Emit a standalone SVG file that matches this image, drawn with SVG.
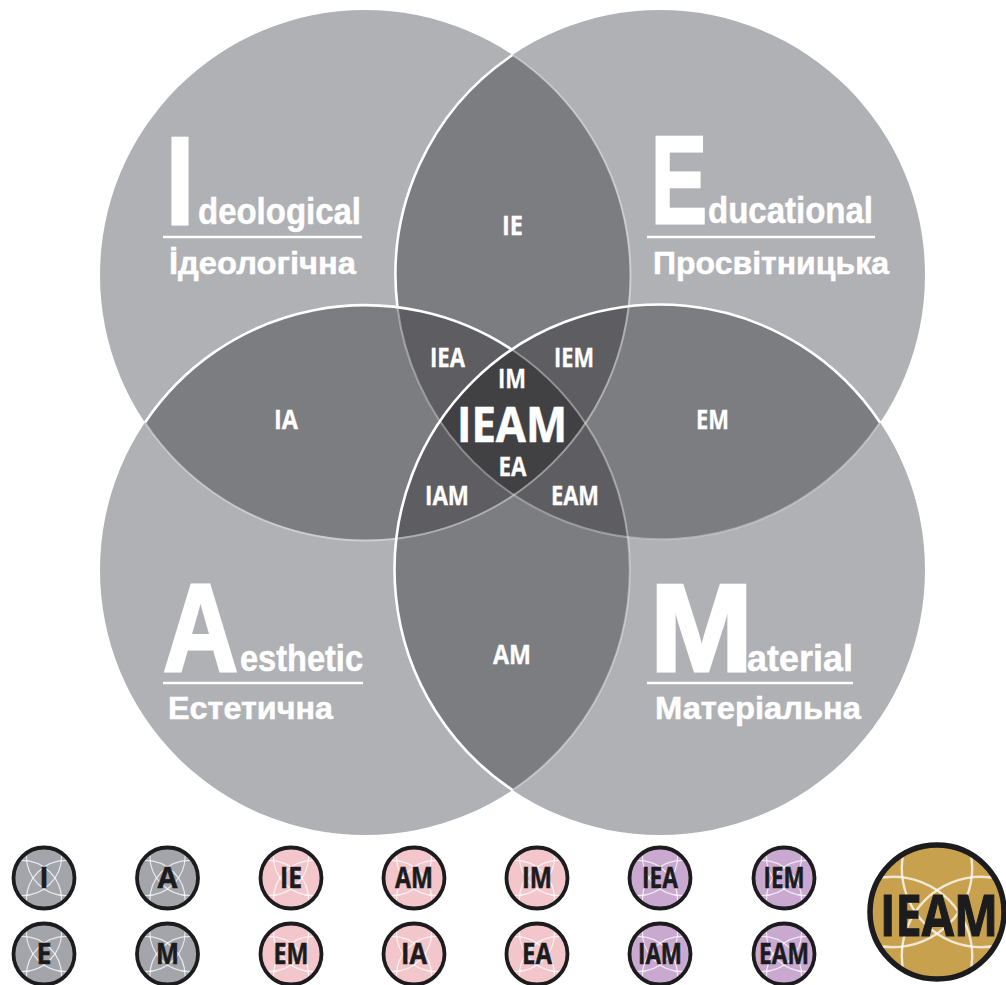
<svg xmlns="http://www.w3.org/2000/svg" width="1006" height="985" viewBox="0 0 1006 985">
<style>
.c1{fill:#b0b1b4}.c2{fill:#7c7d81}.c3{fill:#5e5e62}.c4{fill:#414144}
.hi{fill:none;stroke:#fff;stroke-width:2.6}
.lo{fill:none;stroke:#fff;stroke-opacity:.38;stroke-width:2}
.big,.word,.ua{font-family:"Liberation Sans",Arial,sans-serif;font-weight:700;fill:#fff;stroke:#fff}
.big{font-size:124px;stroke-width:3}.word{font-size:36px;stroke-width:.5}.ua{font-size:32px;stroke-width:.5}
.rule{stroke:#fff;stroke-width:2.5}
.lb{font-family:"Open Sans","Noto Sans",sans-serif;font-weight:700;fill:#fff;stroke:#fff;stroke-width:.3;font-size:26px;text-anchor:middle}
.bt{font-family:"Open Sans","Noto Sans",sans-serif;font-weight:700;fill:#1c1c1e;stroke:#1c1c1e;stroke-width:.5;font-size:28px;text-anchor:middle}
.v{fill:none;stroke:#fff;stroke-opacity:.75;stroke-width:8}
.ring{fill:none;stroke:#1c1c1e;stroke-width:3.8}
.grey{fill:#a3a5aa}.pink{fill:#f2c6ca}.purple{fill:#c9a9d0}.gold{fill:#c7a14e}
</style>
<defs>
<clipPath id="sc"><circle r="31"/></clipPath>
<clipPath id="bc"><circle r="67"/></clipPath>
<g id="v">
<circle class="v" cx="-147.5" cy="-147.5" r="265"/><circle class="v" cx="147.5" cy="-147.5" r="265"/>
<circle class="v" cx="-147.5" cy="147.5" r="265"/><circle class="v" cx="147.5" cy="147.5" r="265"/>
</g>
</defs>

<g id="circle-fills">
<circle id="I" class="c1" cx="365" cy="275" r="265"/>
<circle id="E" class="c1" cx="660" cy="275" r="265"/>
<circle id="A" class="c1" cx="365" cy="570" r="265"/>
<circle id="M" class="c1" cx="660" cy="570" r="265"/>
</g>
<g id="pairs">
<path id="IE" class="c2" d="M512.5 55A265 265 0 0 1 512.5 495A265 265 0 0 1 512.5 55Z"/>
<path id="AM" class="c2" d="M512.5 350A265 265 0 0 1 512.5 790A265 265 0 0 1 512.5 350Z"/>
<path id="IA" class="c2" d="M145 422.5A265 265 0 0 1 585 422.5A265 265 0 0 1 145 422.5Z"/>
<path id="EM" class="c2" d="M440 422.5A265 265 0 0 1 880 422.5A265 265 0 0 1 440 422.5Z"/>
</g>
<g id="triples">
<path id="IEA" class="c3" d="M397.5 307.5A265 265 0 0 1 512.5 350A265 265 0 0 0 440 422.5A265 265 0 0 1 397.5 307.5Z"/>
<path id="IEM" class="c3" d="M627.5 307.5A265 265 0 0 0 512.5 350A265 265 0 0 1 585 422.5A265 265 0 0 0 627.5 307.5Z"/>
<path id="IAM" class="c3" d="M397.5 537.5A265 265 0 0 0 512.5 495A265 265 0 0 1 440 422.5A265 265 0 0 0 397.5 537.5Z"/>
<path id="EAM" class="c3" d="M627.5 537.5A265 265 0 0 1 512.5 495A265 265 0 0 0 585 422.5A265 265 0 0 1 627.5 537.5Z"/>
</g>
<path id="IEAM" class="c4" d="M512.5 350A265 265 0 0 1 585 422.5A265 265 0 0 1 512.5 495A265 265 0 0 1 440 422.5A265 265 0 0 1 512.5 350Z"/>

<g id="connectors">
<path class="lo" d="M512.5 55A265 265 0 1 1 145 422.5"/>
<path class="lo" d="M397.5 307.5A265 265 0 0 0 880 422.5"/>
<path class="lo" d="M512.5 350A265 265 0 0 1 512.5 790"/>
<path class="hi" d="M512.5 55A265 265 0 0 0 397.5 307.5"/>
<path class="hi" d="M145 422.5A265 265 0 0 1 512.5 350"/>
<path class="hi" d="M880 422.5A265 265 0 1 0 512.5 790"/>
</g>

<g id="title-I">
<text class="big" x="166" y="224" textLength="28" lengthAdjust="spacingAndGlyphs">I</text>
<text class="word" x="198" y="224" textLength="163" lengthAdjust="spacingAndGlyphs">deological</text>
<line class="rule" x1="163" y1="237" x2="362" y2="237"/>
<text class="ua" x="169" y="274" textLength="187" lengthAdjust="spacingAndGlyphs">İдеологічна</text>
</g>
<g id="title-E">
<text class="big" x="651" y="223" textLength="56" lengthAdjust="spacingAndGlyphs">E</text>
<text class="word" x="708" y="223" textLength="165" lengthAdjust="spacingAndGlyphs">ducational</text>
<line class="rule" x1="647" y1="237" x2="875" y2="237"/>
<text class="ua" x="653" y="274" textLength="236" lengthAdjust="spacingAndGlyphs">Просвітницька</text>
</g>
<g id="title-A">
<text class="big" x="163" y="671" textLength="75" lengthAdjust="spacingAndGlyphs">A</text>
<text class="word" x="240" y="671" textLength="123" lengthAdjust="spacingAndGlyphs">esthetic</text>
<line class="rule" x1="163" y1="683" x2="363" y2="683"/>
<text class="ua" x="168" y="719" textLength="165" lengthAdjust="spacingAndGlyphs">Естетична</text>
</g>
<g id="title-M">
<text class="big" x="650" y="671" textLength="103" lengthAdjust="spacingAndGlyphs">M</text>
<text class="word" x="747" y="671" textLength="106" lengthAdjust="spacingAndGlyphs">aterial</text>
<line class="rule" x1="647" y1="683" x2="853" y2="683"/>
<text class="ua" x="655" y="719" textLength="206" lengthAdjust="spacingAndGlyphs">Матеріальна</text>
</g>

<g id="labels">
<text class="lb" x="512.5" y="235" textLength="21" lengthAdjust="spacingAndGlyphs">IE</text>
<text class="lb" x="286" y="429" textLength="24" lengthAdjust="spacingAndGlyphs">IA</text>
<text class="lb" x="712.5" y="429" textLength="33" lengthAdjust="spacingAndGlyphs">EM</text>
<text class="lb" x="512" y="664" textLength="38" lengthAdjust="spacingAndGlyphs">AM</text>
<text class="lb" x="447.5" y="367" textLength="35" lengthAdjust="spacingAndGlyphs">IEA</text>
<text class="lb" x="574" y="367" textLength="40" lengthAdjust="spacingAndGlyphs">IEM</text>
<text class="lb" x="512" y="388" textLength="28" lengthAdjust="spacingAndGlyphs">IM</text>
<text class="lb" x="512" y="442" textLength="110" lengthAdjust="spacingAndGlyphs" style="font-size:49px;stroke-width:.6">IEAM</text>
<text class="lb" x="512.5" y="476" textLength="28" lengthAdjust="spacingAndGlyphs">EA</text>
<text class="lb" x="447" y="505" textLength="44" lengthAdjust="spacingAndGlyphs">IAM</text>
<text class="lb" x="575" y="505" textLength="48" lengthAdjust="spacingAndGlyphs">EAM</text>
</g>

<g id="badge-I" transform="translate(44,878)"><circle class="grey" r="31"/><g clip-path="url(#sc)"><use href="#v" transform="scale(.15)"/></g><circle class="ring" r="30.5"/><text class="bt" y="10" textLength="9" lengthAdjust="spacingAndGlyphs">I</text></g>
<g id="badge-A" transform="translate(167.5,878)"><circle class="grey" r="31"/><g clip-path="url(#sc)"><use href="#v" transform="scale(.15)"/></g><circle class="ring" r="30.5"/><text class="bt" y="10" textLength="20" lengthAdjust="spacingAndGlyphs">A</text></g>
<g id="badge-IE" transform="translate(291,878)"><circle class="pink" r="31"/><g clip-path="url(#sc)"><use href="#v" transform="scale(.15)"/></g><circle class="ring" r="30.5"/><text class="bt" y="10" textLength="22" lengthAdjust="spacingAndGlyphs">IE</text></g>
<g id="badge-AM" transform="translate(414,878)"><circle class="pink" r="31"/><g clip-path="url(#sc)"><use href="#v" transform="scale(.15)"/></g><circle class="ring" r="30.5"/><text class="bt" y="10" textLength="38" lengthAdjust="spacingAndGlyphs">AM</text></g>
<g id="badge-IM" transform="translate(537,878)"><circle class="pink" r="31"/><g clip-path="url(#sc)"><use href="#v" transform="scale(.15)"/></g><circle class="ring" r="30.5"/><text class="bt" y="10" textLength="30" lengthAdjust="spacingAndGlyphs">IM</text></g>
<g id="badge-IEA" transform="translate(660,878)"><circle class="purple" r="31"/><g clip-path="url(#sc)"><use href="#v" transform="scale(.15)"/></g><circle class="ring" r="30.5"/><text class="bt" y="10" textLength="36" lengthAdjust="spacingAndGlyphs">IEA</text></g>
<g id="badge-IEM" transform="translate(784,878)"><circle class="purple" r="31"/><g clip-path="url(#sc)"><use href="#v" transform="scale(.15)"/></g><circle class="ring" r="30.5"/><text class="bt" y="10" textLength="41" lengthAdjust="spacingAndGlyphs">IEM</text></g>
<g id="badge-E" transform="translate(44,954)"><circle class="grey" r="31"/><g clip-path="url(#sc)"><use href="#v" transform="scale(.15)"/></g><circle class="ring" r="30.5"/><text class="bt" y="10" textLength="15" lengthAdjust="spacingAndGlyphs">E</text></g>
<g id="badge-M" transform="translate(167.5,954)"><circle class="grey" r="31"/><g clip-path="url(#sc)"><use href="#v" transform="scale(.15)"/></g><circle class="ring" r="30.5"/><text class="bt" y="10" textLength="23" lengthAdjust="spacingAndGlyphs">M</text></g>
<g id="badge-EM" transform="translate(291,954)"><circle class="pink" r="31"/><g clip-path="url(#sc)"><use href="#v" transform="scale(.15)"/></g><circle class="ring" r="30.5"/><text class="bt" y="10" textLength="35" lengthAdjust="spacingAndGlyphs">EM</text></g>
<g id="badge-IA" transform="translate(414,954)"><circle class="pink" r="31"/><g clip-path="url(#sc)"><use href="#v" transform="scale(.15)"/></g><circle class="ring" r="30.5"/><text class="bt" y="10" textLength="26" lengthAdjust="spacingAndGlyphs">IA</text></g>
<g id="badge-EA" transform="translate(537,954)"><circle class="pink" r="31"/><g clip-path="url(#sc)"><use href="#v" transform="scale(.15)"/></g><circle class="ring" r="30.5"/><text class="bt" y="10" textLength="30" lengthAdjust="spacingAndGlyphs">EA</text></g>
<g id="badge-IAM" transform="translate(660,954)"><circle class="purple" r="31"/><g clip-path="url(#sc)"><use href="#v" transform="scale(.15)"/></g><circle class="ring" r="30.5"/><text class="bt" y="10" textLength="44" lengthAdjust="spacingAndGlyphs">IAM</text></g>
<g id="badge-EAM" transform="translate(784,954)"><circle class="purple" r="31"/><g clip-path="url(#sc)"><use href="#v" transform="scale(.15)"/></g><circle class="ring" r="30.5"/><text class="bt" y="10" textLength="50" lengthAdjust="spacingAndGlyphs">EAM</text></g>
<g id="badge-IEAM" transform="translate(937,912)"><circle class="gold" r="67"/><g clip-path="url(#bc)"><use href="#v" transform="scale(.3)"/></g><circle r="67" fill="none" stroke="#1c1c1e" stroke-width="5.5"/><text class="bt" x="2" y="24" textLength="118" lengthAdjust="spacingAndGlyphs" style="font-size:58px;stroke-width:1.2">IEAM</text></g>
</svg>
